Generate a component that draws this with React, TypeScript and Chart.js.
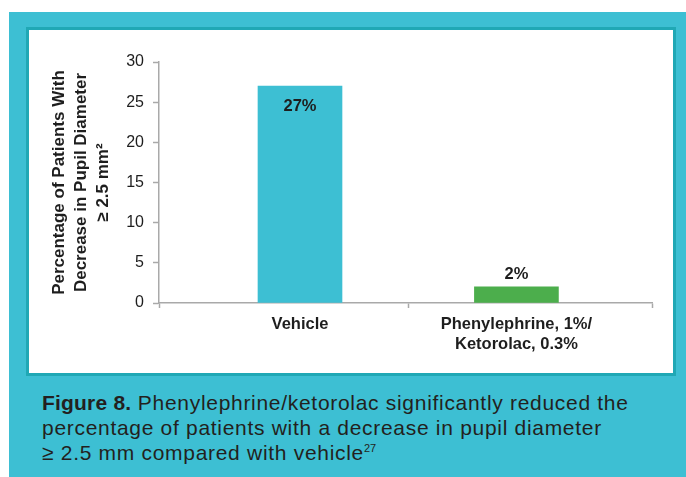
import React, { useEffect, useRef } from 'react';
import { Chart, registerables } from 'chart.js';

Chart.register(...registerables);

// ---- data ----
const categories: (string | string[])[] = ['Vehicle', ['Phenylephrine, 1%/', 'Ketorolac, 0.3%']];
const values = [27, 2];
const valueLabels = ['27%', '2%'];
// bar slots on the (linear) category axis and category boundaries, in axis units
const barSlots = [28.6, 72.5];
const boundaries = [0, 50.7, 100];
const yMin = 0;
const yMax = 30;
const yStep = 5;
const yTitle = ['Percentage of Patients With', 'Decrease in Pupil Diameter', '\u2265 2.5 mm\u00B2'];

const CYAN = '#3dbfd3';
const CYAN_DARK = '#20a8b5';
const GREEN = '#4cae4c';
const AXIS = '#a9a9a9';
const TEXT = '#1e1e1e';
const barColors = [CYAN, GREEN];

const valueLabelPlugin = {
  id: 'valueLabels',
  afterDatasetsDraw(chart: any) {
    const { ctx } = chart;
    const meta = chart.getDatasetMeta(0);
    ctx.save();
    ctx.font = 'bold 16.5px "Liberation Sans", Arial, sans-serif';
    ctx.fillStyle = TEXT;
    ctx.textAlign = 'center';
    ctx.textBaseline = 'middle';
    meta.data.forEach((el: any, i: number) => {
      const inside = values[i] > 10;
      const y = inside ? el.y + 20 : el.y - 12;
      ctx.fillText(valueLabels[i], el.x, y);
    });
    ctx.restore();
  },
};

function BarChart() {
  const ref = useRef<HTMLCanvasElement | null>(null);
  useEffect(() => {
    if (!ref.current) return;
    const chart = new Chart(ref.current, {
      type: 'bar',
      data: {
        datasets: [
          {
            data: values.map((v, i) => ({ x: barSlots[i], y: v })),
            backgroundColor: barColors,
            borderWidth: 0,
            barThickness: 84,
          } as any,
        ],
      },
      options: {
        animation: false,
        responsive: true,
        maintainAspectRatio: false,
        layout: { padding: { top: 32, right: 21, bottom: 0, left: 8 } },
        plugins: {
          legend: { display: false },
          tooltip: { enabled: false },
        },
        scales: {
          x: {
            type: 'linear',
            min: 0,
            max: 100,
            offset: false,
            afterBuildTicks: (scale: any) => {
              const vals = [...boundaries, ...barSlots].sort((a, b) => a - b);
              scale.ticks = vals.map((v) => ({ value: v }));
            },
            afterFit: (scale: any) => {
              scale.height = 70;
            },
            grid: {
              display: true,
              drawOnChartArea: false,
              drawTicks: true,
              tickLength: 5,
              tickWidth: 1.5,
              offset: false,
              tickColor: (c: any) =>
                c.tick && boundaries.includes(c.tick.value) ? AXIS : 'rgba(0,0,0,0)',
            },
            border: { display: true, color: AXIS, width: 1.5 },
            ticks: {
              autoSkip: false,
              maxRotation: 0,
              minRotation: 0,
              padding: 6.5,
              color: TEXT,
              font: { family: '"Liberation Sans", Arial, sans-serif', size: 16.5, weight: 'bold', lineHeight: 1.2 },
              callback: (value: any) => {
                const idx = barSlots.indexOf(Number(value));
                return idx >= 0 ? (categories[idx] as any) : '';
              },
            },
          } as any,
          y: {
            min: yMin,
            max: yMax,
            afterFit: (scale: any) => {
              scale.width = 122;
            },
            grid: {
              display: true,
              drawOnChartArea: false,
              drawTicks: true,
              tickLength: 6,
              tickWidth: 1.5,
              tickColor: AXIS,
            },
            border: { display: true, color: AXIS, width: 1.5 },
            ticks: {
              stepSize: yStep,
              padding: 9,
              color: TEXT,
              font: { family: '"Liberation Sans", Arial, sans-serif', size: 16 },
            },
            title: {
              display: true,
              text: yTitle,
              color: TEXT,
              padding: { top: 11, bottom: 0 },
              font: { family: '"Liberation Sans", Arial, sans-serif', size: 17, weight: 'bold', lineHeight: 1.3 },
            },
          } as any,
        },
      },
      plugins: [valueLabelPlugin],
    });
    return () => chart.destroy();
  }, []);
  return <canvas ref={ref} />;
}

export default function App() {
  return (
    <div
      style={{
        position: 'fixed',
        left: 0,
        top: 0,
        width: 686,
        height: 477,
        background: '#ffffff',
        overflow: 'hidden',
      }}
    >
      <div style={{ position: 'absolute', left: 9, top: 12, right: 0, bottom: 0, background: CYAN }} />
      <div
        style={{
          position: 'absolute',
          left: 26,
          top: 27,
          width: 650,
          height: 349,
          boxSizing: 'border-box',
          border: `3px solid ${CYAN_DARK}`,
          background: '#ffffff',
        }}
      />
      <div style={{ position: 'absolute', left: 29, top: 30, width: 644, height: 343 }}>
        <BarChart />
      </div>
      <div
        style={{
          position: 'absolute',
          left: 42,
          top: 389.5,
          width: 640,
          fontFamily: '"Liberation Sans", Arial, sans-serif',
          fontSize: 21,
          lineHeight: '25px',
          letterSpacing: '0.7px',
          color: '#231f20',
          whiteSpace: 'nowrap',
        }}
      >
        <div style={{ height: 25 }}>
          <b style={{ letterSpacing: '0.2px' }}>Figure 8.</b> Phenylephrine/ketorolac significantly reduced the
        </div>
        <div style={{ height: 25 }}>percentage of patients with a decrease in pupil diameter</div>
        <div style={{ height: 25 }}>
          {'\u2265 2.5 mm compared with vehicle'}
          <span
            style={{
              fontSize: 11,
              position: 'relative',
              top: -8,
              lineHeight: 0,
              letterSpacing: 0,
            }}
          >
            27
          </span>
        </div>
      </div>
    </div>
  );
}
